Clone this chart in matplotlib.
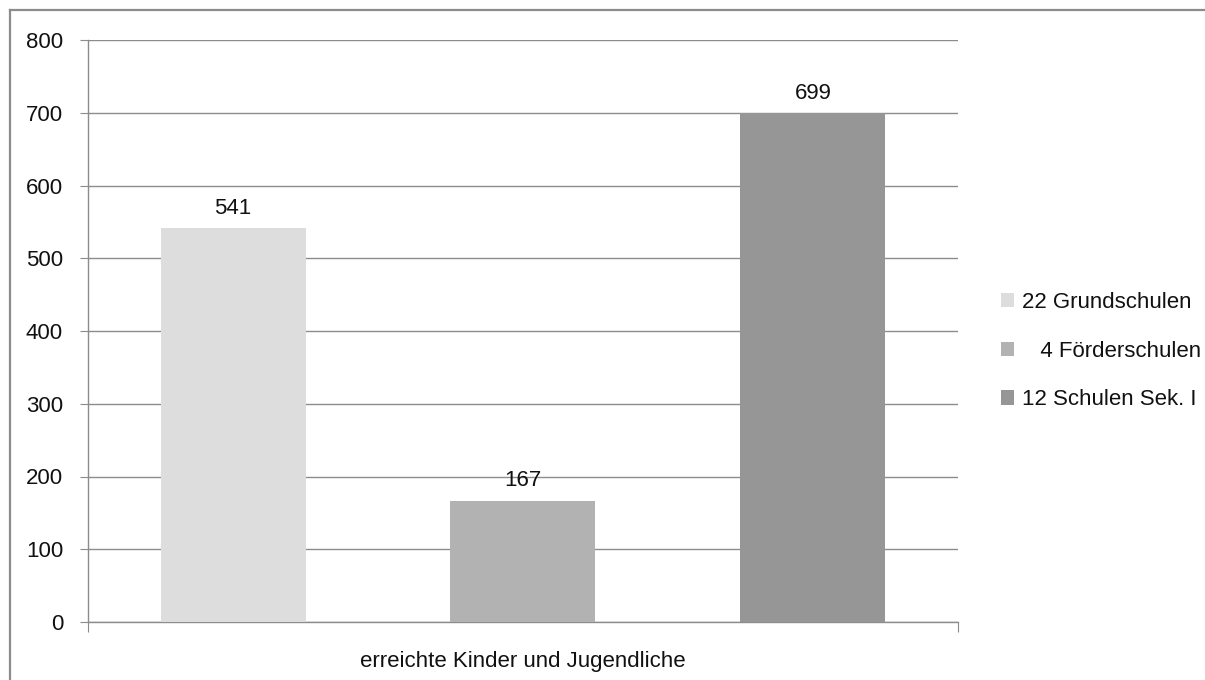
import numpy as np
import matplotlib
matplotlib.use("Agg")
import matplotlib.pyplot as plt
from matplotlib.lines import Line2D

# Schulen und erreichte Kinder/Jugendliche
labels = ["22 Grundschulen", "   4 Förderschulen", "12 Schulen Sek. I"]
values = [541, 167, 699]
colors = ["#dddddd", "#b2b2b2", "#969696"]
category = "erreichte Kinder und Jugendliche"
yticks = [0, 100, 200, 300, 400, 500, 600, 700, 800]

plt.rcParams['font.family'] = ['Liberation Sans', 'DejaVu Sans']
fs = 16
grey = "#8c8c8c"
W, H = 1205, 680

fig = plt.figure(figsize=(W / 100, H / 100), dpi=100)
ax = fig.add_axes([88 / W, 1 - 622 / H, 870 / W, 582 / H])

x = np.arange(len(values))
bars = ax.bar(x, values, width=0.5, color=colors, label=labels, zorder=3)
for xi, v in zip(x, values):
    ax.annotate(str(v), (xi, v), xytext=(0, 7), textcoords="offset points",
                ha="center", va="bottom", fontsize=fs, color="#111111")

ax.set_xlim(-0.5, 2.5)
ax.set_ylim(0, 800)
ax.set_yticks(yticks)
ax.set_xticks([-0.5, 2.5])
ax.set_xticklabels(["", ""])
ax.tick_params(axis="y", length=6, color=grey, labelsize=fs, pad=12, labelcolor="#111111")
ax.tick_params(axis="x", length=7, color=grey)
ax.yaxis.grid(True, color=grey, linewidth=1.0, zorder=0)
for s in ["top", "right"]:
    ax.spines[s].set_visible(False)
for s in ["left", "bottom"]:
    ax.spines[s].set_color(grey)
    ax.spines[s].set_linewidth(1.0)
ax.text(0.5, -0.05, category, transform=ax.transAxes, ha="center", va="top",
        fontsize=fs, color="#111111")

leg = fig.legend(handles=list(bars), labels=labels, loc="center left",
                 bbox_to_anchor=(981 / W, 1 - 351 / H), frameon=False,
                 fontsize=fs, handlelength=0.6, handleheight=0.6,
                 handletextpad=0.36, labelspacing=1.25)
for t in leg.get_texts():
    t.set_color("#111111")

# outer frame (top and left edge)
fig.add_artist(Line2D([10 / W, 1], [670 / H, 670 / H], color=grey, lw=1.6,
                      transform=fig.transFigure))
fig.add_artist(Line2D([10 / W, 10 / W], [0, 670 / H], color=grey, lw=1.6,
                      transform=fig.transFigure))

plt.savefig("out.png", dpi=100)
plt.close()
